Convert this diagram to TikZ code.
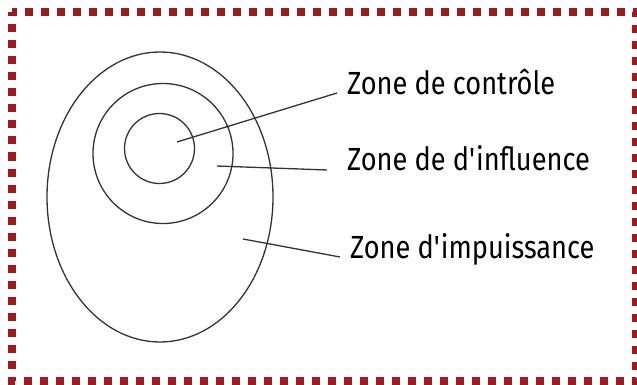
\documentclass[tikz,border=0pt]{standalone}
\usepackage{fontspec}
\setmainfont[FakeStretch=0.85]{Fira Sans}
\usetikzlibrary{shapes.geometric}
\definecolor{dotred}{HTML}{9B1C20}

\begin{document}
\begin{tikzpicture}[
    x=1pt, y=-1pt,
    zone/.style={draw=black!80, line width=1.3pt, inner sep=0pt},
    lbl/.style={anchor=base west, inner sep=0pt, text=black,
                font=\fontsize{32}{36}\selectfont},
    pin/.style={draw=black!80, line width=1.3pt}
]

\useasboundingbox (0,0) rectangle (637,385);

\draw[dotred, line width=8pt, dash pattern=on 8pt off 8pt, dash phase=4pt]
    (12,12.5) rectangle (636,381);

\node[zone, ellipse, minimum width=226pt, minimum height=290pt] (outer) at (160,197) {};
\node[zone, circle, minimum size=140pt] (middle) at (163,153.5) {};
\node[zone, circle, minimum size=70pt] (inner) at (159.5,148.5) {};

\node[lbl] (ctrl) at (347,95) {Zone de contrôle};
\node[lbl] (infl) at (347,170) {Zone de d\textquotesingle influence};
\node[lbl] (impu) at (350,258) {Zone d\textquotesingle impuissance};

\coordinate (p1) at (177,142);
\coordinate (p2) at (217,166);
\coordinate (p3) at (243,239);

\draw[pin] (p1) -- ([shift={(-10,-2)}]ctrl.base west);
\draw[pin] (p2) -- ([shift={(-20,0)}]infl.base west);
\draw[pin] (p3) -- ([shift={(-10,-1)}]impu.base west);

\end{tikzpicture}
\end{document}
